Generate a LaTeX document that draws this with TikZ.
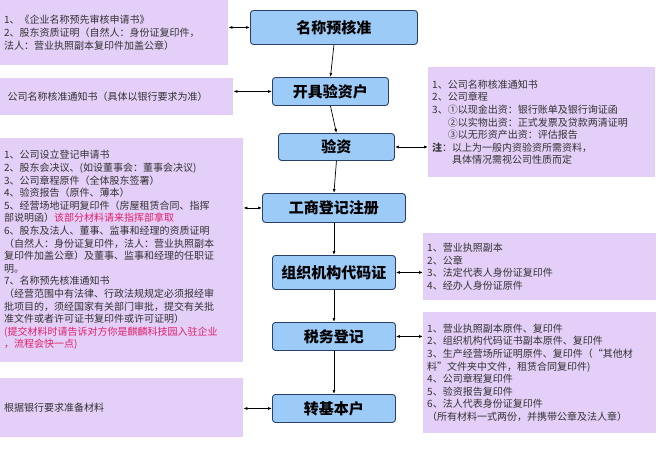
\documentclass[tikz,border=0pt]{standalone}
\usepackage{fontspec}
\setmainfont{Noto Sans CJK SC}
\usetikzlibrary{arrows.meta}
\definecolor{pbox}{HTML}{E3CFF7}
\definecolor{bbox}{HTML}{9CCBF7}
\definecolor{bedge}{HTML}{2A3F6A}
\definecolor{redt}{HTML}{E2206A}
\tikzset{
 side/.style={fill=pbox,draw=none,anchor=north west,align=left,inner sep=4pt,font=\fontsize{10}{12.6}\selectfont,text=black!80},
 mainbox/.style={fill=bbox,draw=bedge,line width=0.9pt,rounded corners=3pt,anchor=north west,font=\fontsize{15}{17}\selectfont\bfseries},
 link/.style={{Latex[length=4pt]}-{Latex[length=4pt]},line width=0.7pt}
}
\begin{document}
\begin{tikzpicture}[x=1pt,y=-1pt]
\useasboundingbox (0,0) rectangle (667,450);
% central
\node[mainbox,minimum width=167,minimum height=34] (c1) at (250,10) {名称预核准};
\node[mainbox,minimum width=116,minimum height=28] (c2) at (272,77) {开具验资户};
\node[mainbox,minimum width=116,minimum height=27] (c3) at (278,133) {验资};
\node[mainbox,minimum width=143,minimum height=29] (c4) at (262,193) {工商登记注册};
\node[mainbox,minimum width=123,minimum height=34] (c5) at (272,255) {组织机构代码证};
\node[mainbox,minimum width=123,minimum height=28] (c6) at (272,322) {税务登记};
\node[mainbox,minimum width=123,minimum height=28] (c7) at (272,394) {转基本户};
\foreach \a/\b in {c1/c2,c2/c3,c3/c4,c4/c5,c5/c6,c6/c7}
  \draw[-{Latex[length=4pt]},line width=0.7pt] (\a.south) -- (\b.north);
% left
\node[side,text width=220,minimum height=65] (l1) at (0,0) {1、《企业名称预先审核申请书》\\2、股东资质证明（自然人：身份证复印件，\\法人：营业执照副本复印件加盖公章）};
\node[side,text width=225,minimum height=37] (l2) at (0,78) {\ 公司名称核准通知书（具体以银行要求为准）};
\node[side,text width=235,minimum height=224] (l3) at (0,138) {1、公司设立登记申请书\\2、股东会决议、(如设董事会：董事会决议)\\3、公司章程原件（全体股东签署）\\4、验资报告（原件、薄本）\\5、经营场地证明复印件（房屋租赁合同、指挥\\部说明函）\textcolor{redt}{该部分材料请来指挥部拿取}\\6、股东及法人、董事、监事和经理的资质证明\\（自然人：身份证复印件，法人：营业执照副本\\复印件加盖公章）及董事、监事和经理的任职证\\明。\\7、名称预先核准通知书\\（经营范围中有法律、行政法规规定必须报经审\\批项目的，须经国家有关部门审批，提交有关批\\准文件或者许可证书复印件或许可证明）\\\textcolor{redt}{(提交材料时请告诉对方你是麒麟科技园入驻企业}\\\textcolor{redt}{，流程会快一点)}};
\node[side,text width=235,minimum height=59] (l4) at (0,378) {根据银行要求准备材料};
% right
\node[side,text width=219,minimum height=110] (r1) at (428,67) {1、公司名称核准通知书\\2、公司章程\\3、①以现金出资：银行账单及银行询证函\\\phantom{3、}②以实物出资：正式发票及贷款两清证明\\\phantom{3、}③以无形资产出资：评估报告\\\textbf{注}：以上为一般内资验资所需资料，\\\phantom{注：}具体情况需视公司性质而定};
\node[side,text width=225,minimum height=67] (r2) at (423,233) {1、营业执照副本\\2、公章\\3、法定代表人身份证复印件\\4、经办人身份证原件};
\node[side,text width=225,minimum height=121] (r3) at (423,312) {1、营业执照副本原件、复印件\\2、组织机构代码证书副本原件、复印件\\3、生产经营场所证明原件、复印件（“其他材\\料”文件夹中文件，租赁合同复印件)\\4、公司章程复印件\\5、验资报告复印件\\6、法人代表身份证复印件\\（所有材料一式两份，并携带公章及法人章）};
% links
\draw[link] (l1.east |- c1.west) -- (c1.west);
\draw[link] (l2.east |- c2.west) -- (c2.west);
\draw[link] (l3.east |- c4.west) -- (c4.west);
\draw[link] (l4.east |- c7.west) -- (c7.west);
\draw[link] (c3.east) -- (c3.east -| r1.west);
\draw[link] (c5.east) -- (c5.east -| r2.west);
\draw[link] (c6.east) -- (c6.east -| r3.west);
\end{tikzpicture}
\end{document}
